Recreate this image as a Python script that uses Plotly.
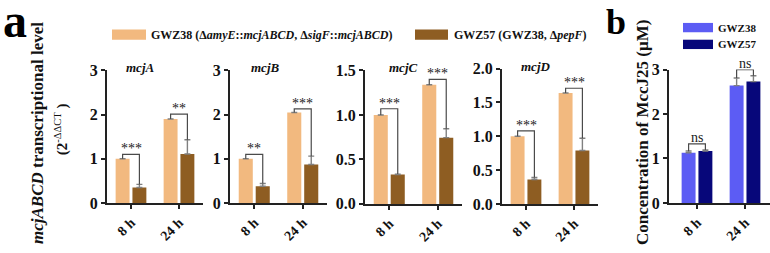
import plotly.graph_objects as go

# ---------------- data ----------------
categories = ["8 h", "24 h"]
genes = ["mcjA", "mcjB", "mcjC", "mcjD"]

mcjA_gwz38 = [1.0, 1.90]
mcjA_gwz38_err = [0.0, 0.0]
mcjA_gwz57 = [0.35, 1.11]
mcjA_gwz57_err = [0.07, 0.32]
mcjA_bracket = [1.10, 2.01]
mcjA_sig = ["***", "**"]

mcjB_gwz38 = [1.0, 2.05]
mcjB_gwz38_err = [0.0, 0.0]
mcjB_gwz57 = [0.38, 0.87]
mcjB_gwz57_err = [0.06, 0.19]
mcjB_bracket = [1.10, 2.13]
mcjB_sig = ["**", "***"]

mcjC_gwz38 = [1.0, 1.34]
mcjC_gwz38_err = [0.0, 0.0]
mcjC_gwz57 = [0.33, 0.745]
mcjC_gwz57_err = [0.005, 0.10]
mcjC_bracket = [1.07, 1.40]
mcjC_sig = ["***", "***"]

mcjD_gwz38 = [1.0, 1.64]
mcjD_gwz38_err = [0.0, 0.0]
mcjD_gwz57 = [0.36, 0.79]
mcjD_gwz57_err = [0.03, 0.18]
mcjD_bracket = [1.08, 1.71]
mcjD_sig = ["***", "***"]

mcc_gwz38 = [1.13, 2.64]
mcc_gwz38_err = [0.04, 0.17]
mcc_gwz57 = [1.17, 2.73]
mcc_gwz57_err = [0.02, 0.13]
mcc_bracket = [1.33, 3.0]
mcc_sig = ["ns", "ns"]

legend_a = ["GWZ38 (Δ<i>amyE</i>::<i>mcjABCD</i>, Δ<i>sigF</i>::<i>mcjABCD</i>)",
            "GWZ57 (GWZ38, Δ<i>pepF</i>)"]
legend_b = ["GWZ38", "GWZ57"]

# ---------------- style ----------------
W, H = 770, 253
FONT = "Liberation Serif, Times New Roman, serif"
C_LIGHT, C_DARK = "#F2B97F", "#8E5D22"
C_BLUE, C_NAVY = "#5C5CF4", "#07077A"
OFF, BW = 0.175, 0.29


def xd(a, b):
    return [a / W, min(b / W, 1.0)]


def yd(top, bottom):
    return [1 - bottom / H, 1 - top / H]


panels = [
    dict(g1=mcjA_gwz38, e1=mcjA_gwz38_err, g2=mcjA_gwz57, e2=mcjA_gwz57_err,
         br=mcjA_bracket, sig=mcjA_sig, c1=C_LIGHT, c2=C_DARK,
         xdom=xd(107, 203), ydom=yd(67, 209), yr=[0, 3], dtick=1, fmt="d",
         xr=[-0.5, 1.5], title=genes[0], tx=140, ty=64),
    dict(g1=mcjB_gwz38, e1=mcjB_gwz38_err, g2=mcjB_gwz57, e2=mcjB_gwz57_err,
         br=mcjB_bracket, sig=mcjB_sig, c1=C_LIGHT, c2=C_DARK,
         xdom=xd(230, 327), ydom=yd(67, 209), yr=[0, 3], dtick=1, fmt="d",
         xr=[-0.5, 1.5], title=genes[1], tx=265, ty=64),
    dict(g1=mcjC_gwz38, e1=mcjC_gwz38_err, g2=mcjC_gwz57, e2=mcjC_gwz57_err,
         br=mcjC_bracket, sig=mcjC_sig, c1=C_LIGHT, c2=C_DARK,
         xdom=xd(365, 462), ydom=yd(67, 210), yr=[0, 1.5], dtick=0.5, fmt=".1f",
         xr=[-0.5, 1.5], title=genes[2], tx=403, ty=64),
    dict(g1=mcjD_gwz38, e1=mcjD_gwz38_err, g2=mcjD_gwz57, e2=mcjD_gwz57_err,
         br=mcjD_bracket, sig=mcjD_sig, c1=C_LIGHT, c2=C_DARK,
         xdom=xd(502, 598), ydom=yd(65, 210), yr=[0, 2], dtick=0.5, fmt=".1f",
         xr=[-0.5, 1.5], title=genes[3], tx=535, ty=63),
    dict(g1=mcc_gwz38, e1=mcc_gwz38_err, g2=mcc_gwz57, e2=mcc_gwz57_err,
         br=mcc_bracket, sig=mcc_sig, c1=C_BLUE, c2=C_NAVY,
         xdom=xd(669, 770), ydom=yd(66, 209), yr=[0, 3], dtick=1, fmt="d",
         xr=[-0.583, 1.52], title=None),
]

fig = go.Figure()
annotations = []
shapes = []
layout = {}
idx = list(range(len(categories)))

for i, p in enumerate(panels):
    n = "" if i == 0 else str(i + 1)
    xa, ya = "x" + n, "y" + n
    x1 = [k - OFF for k in idx]
    x2 = [k + OFF for k in idx]
    for xs, vals, errs, col in [(x1, p["g1"], p["e1"], p["c1"]), (x2, p["g2"], p["e2"], p["c2"])]:
        fig.add_trace(go.Bar(
            x=xs, y=vals, width=BW, marker=dict(color=col, line=dict(width=0)),
            error_y=dict(type="data", array=errs, arrayminus=[0] * len(errs), symmetric=False,
                         color="#808080", thickness=1.4, width=3),
            xaxis=xa, yaxis=ya, showlegend=False, hoverinfo="skip"))
    # significance brackets
    for k in idx:
        yl = p["g1"][k] + p["e1"][k]
        yr_ = p["g2"][k] + p["e2"][k]
        yb = p["br"][k]
        fig.add_trace(go.Scatter(
            x=[x1[k], x1[k], x2[k], x2[k]], y=[yl, yb, yb, yr_], mode="lines",
            line=dict(color="#4a4a4a", width=1.2), xaxis=xa, yaxis=ya,
            showlegend=False, hoverinfo="skip", cliponaxis=False))
        annotations.append(dict(
            x=k, y=yb, xref=xa, yref=ya, text=p["sig"][k], showarrow=False,
            xanchor="center", yanchor="bottom", yshift=(-4 if p["sig"][k] != "ns" else -3),
            font=dict(family=FONT, size=14, color="#222222")))
    layout["xaxis" + n] = dict(
        domain=p["xdom"], anchor=ya, range=p["xr"], tickvals=idx,
        ticktext=["<b>%s</b>" % c for c in categories],
        tickangle=-45, showline=True, linecolor="#222222", linewidth=2, ticks="outside",
        ticklen=4, tickwidth=2, tickcolor="#222222", showgrid=False, zeroline=False,
        tickfont=dict(family=FONT, size=14, color="#111111"), fixedrange=True)
    layout["yaxis" + n] = dict(
        domain=p["ydom"], anchor=xa, range=p["yr"], dtick=p["dtick"], tick0=0,
        tickformat=p["fmt"], showline=True, linecolor="#222222", linewidth=2,
        ticks="outside", ticklen=4, tickwidth=2, tickcolor="#222222", showgrid=False,
        zeroline=False, tickfont=dict(family=FONT, size=16, color="#111111", weight="bold"),
        fixedrange=True)
    if p["title"]:
        annotations.append(dict(
            x=p["tx"] / W, y=1 - p["ty"] / H, xref="paper", yref="paper",
            text="<b><i>%s</i></b>" % p["title"], showarrow=False, xanchor="center",
            yanchor="middle", font=dict(family=FONT, size=13, color="#111111")))

# panel letters
annotations.append(dict(x=15 / W, y=1 - 13 / H, xref="paper", yref="paper", text="<b>a</b>",
                        showarrow=False, xanchor="center", yanchor="middle",
                        font=dict(family=FONT, size=48, color="#000000")))
annotations.append(dict(x=616 / W, y=1 - 15 / H, xref="paper", yref="paper", text="<b>b</b>",
                        showarrow=False, xanchor="center", yanchor="middle",
                        font=dict(family=FONT, size=36, color="#000000")))

# y-axis titles
annotations.append(dict(x=38 / W, y=1 - 134 / H, xref="paper", yref="paper",
                        text="<b><i>mcjABCD</i> transcriptional level</b>", textangle=-90,
                        showarrow=False, xanchor="center", yanchor="middle",
                        font=dict(family=FONT, size=17, color="#111111")))
annotations.append(dict(x=61 / W, y=1 - 130 / H, xref="paper", yref="paper",
                        text="<b>(2</b><sup>-ΔΔCT</sup><b> )</b>", textangle=-90,
                        showarrow=False, xanchor="center", yanchor="middle",
                        font=dict(family=FONT, size=15, color="#111111")))
annotations.append(dict(x=643 / W, y=1 - 134 / H, xref="paper", yref="paper",
                        text="<b>Concentration of MccJ25 (μM)</b>", textangle=-90,
                        showarrow=False, xanchor="center", yanchor="middle",
                        font=dict(family=FONT, size=17, color="#111111")))

# legends (swatch + text)
leg_a = [(legend_a[0], C_LIGHT, 112, 146, 23, 34, 149),
         (legend_a[1], C_DARK, 415, 448, 23, 34, 452)]
for txt, col, x0, x1_, y0, y1, tx in leg_a:
    shapes.append(dict(type="rect", xref="paper", yref="paper", x0=x0 / W, x1=x1_ / W,
                       y0=1 - y1 / H, y1=1 - y0 / H, fillcolor=col, line=dict(width=0)))
    annotations.append(dict(x=tx / W, y=1 - (y0 + y1) / 2 / H, xref="paper", yref="paper",
                            text="<b>%s</b>" % txt, showarrow=False, xanchor="left",
                            yanchor="middle", font=dict(family=FONT, size=12, color="#111111")))
leg_b = [(legend_b[0], C_BLUE, 683, 713, 16, 26, 716),
         (legend_b[1], C_NAVY, 683, 713, 34, 44, 716)]
for txt, col, x0, x1_, y0, y1, tx in leg_b:
    shapes.append(dict(type="rect", xref="paper", yref="paper", x0=x0 / W, x1=x1_ / W,
                       y0=1 - y1 / H, y1=1 - y0 / H, fillcolor=col, line=dict(width=0)))
    annotations.append(dict(x=tx / W, y=1 - (y0 + y1) / 2 / H, xref="paper", yref="paper",
                            text="<b>%s</b>" % txt, showarrow=False, xanchor="left",
                            yanchor="middle", font=dict(family=FONT, size=11, color="#111111")))

fig.update_layout(
    width=W, height=H, margin=dict(l=0, r=0, t=0, b=0),
    paper_bgcolor="white", plot_bgcolor="white", showlegend=False,
    annotations=annotations, shapes=shapes, barmode="overlay",
    font=dict(family=FONT), **layout)

fig.write_html("out.html", config={"displayModeBar": False})
